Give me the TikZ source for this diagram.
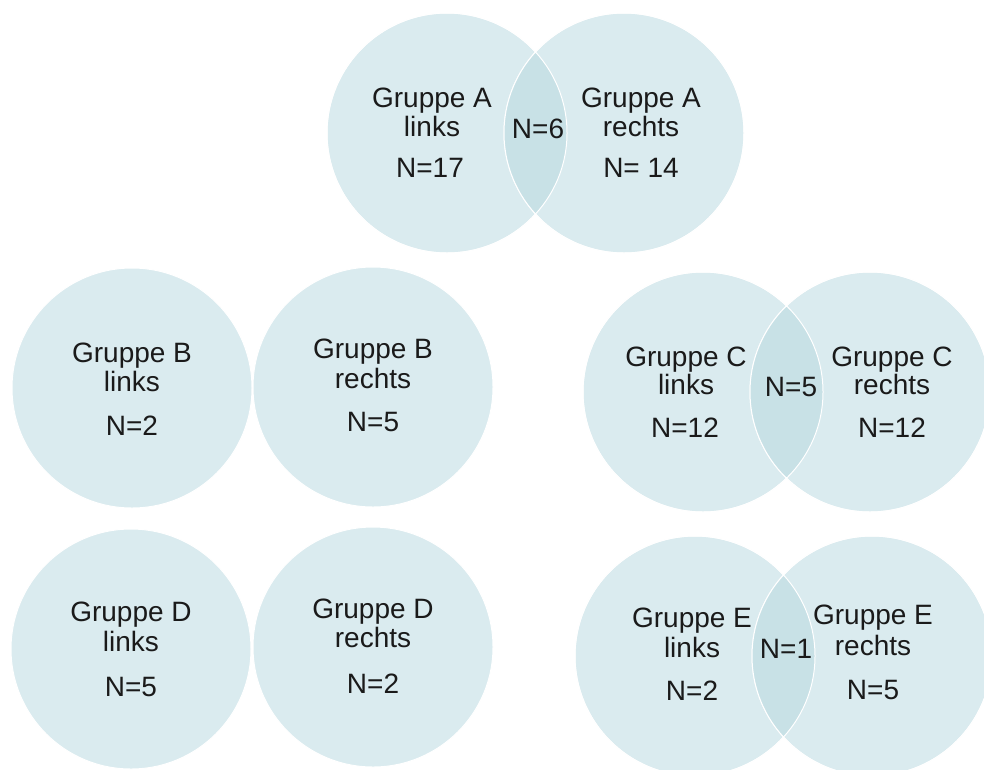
\documentclass[tikz,border=0pt]{standalone}
\usepackage{fontspec}
\setmainfont{Liberation Sans}
\definecolor{circfill}{HTML}{DAEBEF}
\definecolor{lensfill}{HTML}{C8E1E6}
\definecolor{txt}{HTML}{1A1A1A}
\begin{document}
\begin{tikzpicture}[x=1pt,y=-1pt,
  circ/.style={circle,minimum size=240pt,inner sep=0pt,fill=circfill,draw=white,line width=1pt},
  lbl/.style={inner sep=0pt,text height=20pt,text depth=0pt,text=txt,font=\fontsize{28}{29}\selectfont},
]
\useasboundingbox (0,0) rectangle (984,769);
\clip (0,0) rectangle (984,769);
% ---- circles
\node[circ] (AL) at (447,133) {};
\node[circ] (AR) at (624,133) {};
\node[circ] (BL) at (132,388) {};
\node[circ] (BR) at (373,387) {};
\node[circ] (CL) at (703,392) {};
\node[circ] (CR) at (870,392) {};
\node[circ] (DL) at (131,649) {};
\node[circ] (DR) at (373,647) {};
\node[circ] (EL) at (695,656) {};
\node[circ] (ER) at (872,656) {};
% ---- lenses
\begin{scope}
  \clip (447,133) circle (120);
  \fill[lensfill] (624,133) circle (120);
\end{scope}
\begin{scope}
  \clip (703,392) circle (120);
  \fill[lensfill] (870,392) circle (120);
\end{scope}
\begin{scope}
  \clip (695,656) circle (120);
  \fill[lensfill] (872,656) circle (120);
\end{scope}
\draw[white,line width=1pt] (447,133) circle (120) (624,133) circle (120)
  (703,392) circle (120) (870,392) circle (120)
  (695,656) circle (120) (872,656) circle (120);
% ---- labels A
\node[lbl] (al1) at (432,97) {Gruppe A};
\node[lbl] (al2) at (432,126) {links};
\node[lbl] (al3) at (430,167) {N=17};
\node[lbl] (ax) at (538,128) {N=6};
\node[lbl] (ar1) at (641,97) {Gruppe A};
\node[lbl] (ar2) at (641,126) {rechts};
\node[lbl] (ar3) at (641,167) {N= 14};
% ---- labels B
\node[lbl] (bl1) at (132,352) {Gruppe B};
\node[lbl] (bl2) at (132,381) {links};
\node[lbl] (bl3) at (132,425) {N=2};
\node[lbl] (br1) at (373,348) {Gruppe B};
\node[lbl] (br2) at (373,378) {rechts};
\node[lbl] (br3) at (373,421) {N=5};
% ---- labels C
\node[lbl] (cl1) at (686,356) {Gruppe C};
\node[lbl] (cl2) at (686,384) {links};
\node[lbl] (cl3) at (685,427) {N=12};
\node[lbl] (cx) at (791,386) {N=5};
\node[lbl] (cr1) at (892,356) {Gruppe C};
\node[lbl] (cr2) at (892,384) {rechts};
\node[lbl] (cr3) at (892,427) {N=12};
% ---- labels D
\node[lbl] (dl1) at (131,611) {Gruppe D};
\node[lbl] (dl2) at (131,641) {links};
\node[lbl] (dl3) at (131,686) {N=5};
\node[lbl] (dr1) at (373,608) {Gruppe D};
\node[lbl] (dr2) at (373,637) {rechts};
\node[lbl] (dr3) at (373,683) {N=2};
% ---- labels E
\node[lbl] (el1) at (692,617) {Gruppe E};
\node[lbl] (el2) at (692,647) {links};
\node[lbl] (el3) at (692,690) {N=2};
\node[lbl] (ex) at (786,648) {N=1};
\node[lbl] (er1) at (873,614) {Gruppe E};
\node[lbl] (er2) at (873,645) {rechts};
\node[lbl] (er3) at (873,689) {N=5};
\end{tikzpicture}
\end{document}
